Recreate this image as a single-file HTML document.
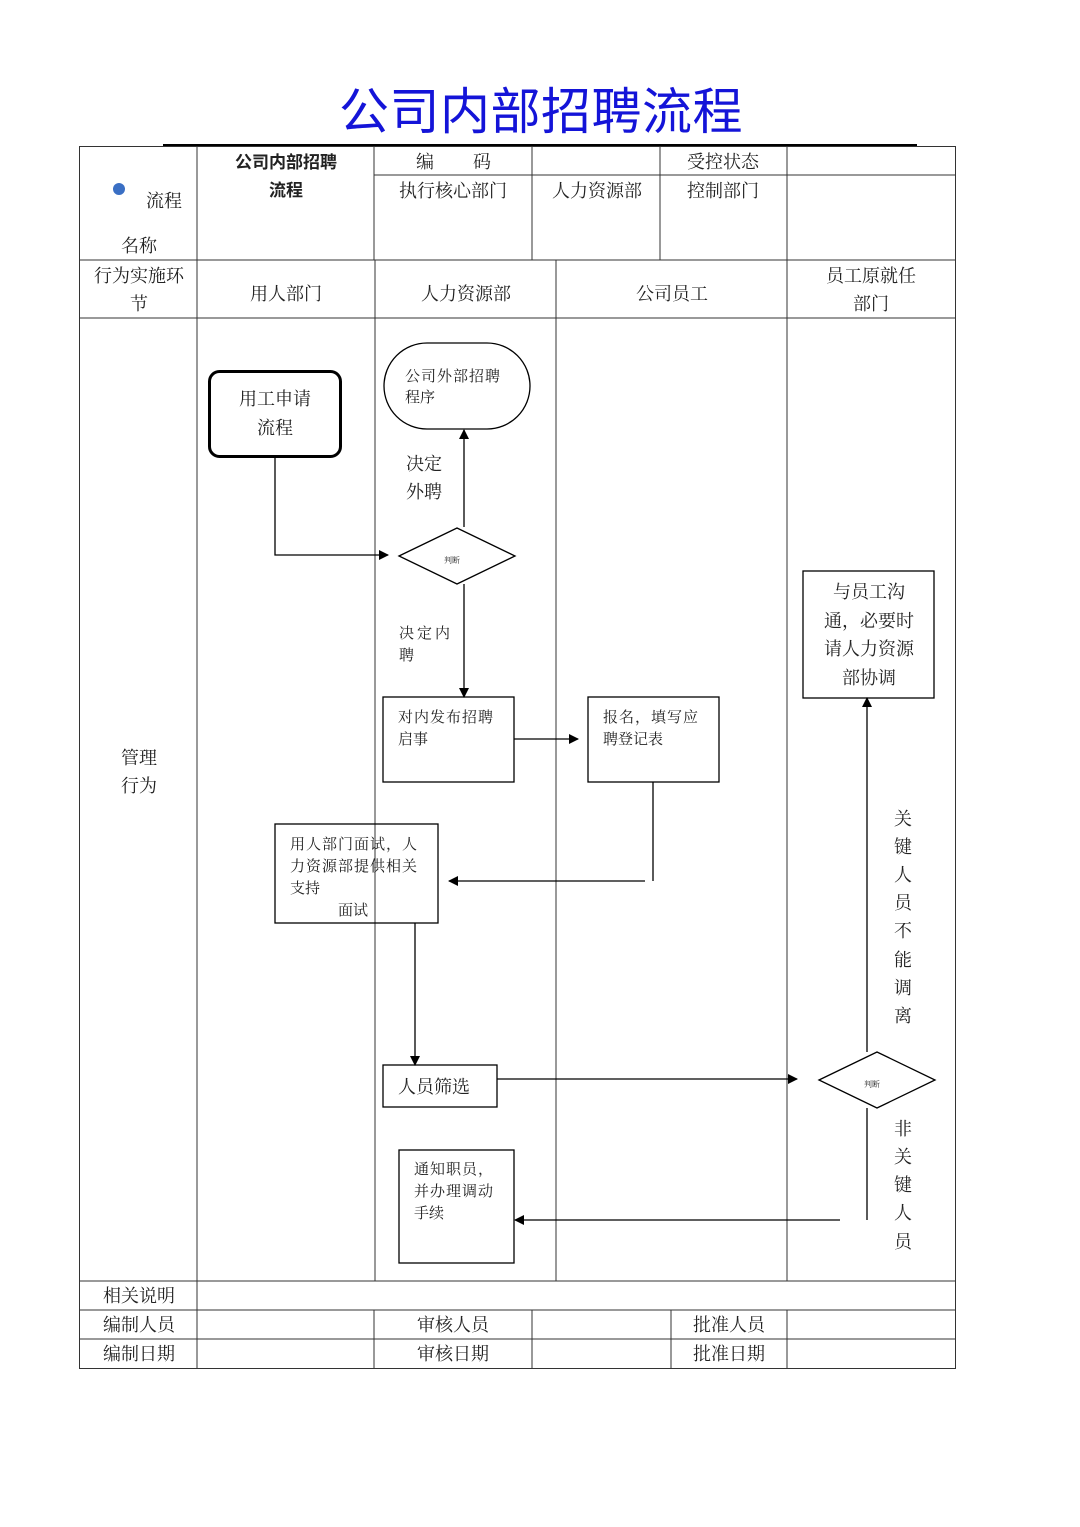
<!DOCTYPE html>
<html><head><meta charset="utf-8"><style>
html,body{margin:0;padding:0;background:#fff;width:1080px;height:1527px;overflow:hidden}
svg{display:block}
text{font-family:"Liberation Serif","Noto Serif CJK SC","Noto Sans CJK SC",serif;fill:#222}
.s{font-size:18px}.m{font-size:15px}
</style></head><body>
<svg width="1080" height="1527" viewBox="0 0 1080 1527" xmlns="http://www.w3.org/2000/svg">
<defs><marker id="a" markerWidth="10" markerHeight="10" refX="9" refY="5" orient="auto" markerUnits="userSpaceOnUse"><path d="M0,0 L10,5 L0,10 z" fill="#000"/></marker></defs>
<text x="541" y="129" text-anchor="middle" style="font-family:'Noto Sans CJK SC',sans-serif;font-size:50px;fill:#1414d8" letter-spacing="0.5">公司内部招聘流程</text>
<line x1="163" y1="145" x2="917" y2="145" stroke="#000" stroke-width="2"/>
<g stroke="#333" stroke-width="1" fill="none">
<rect x="79.5" y="146.5" width="876" height="1222"/>
<line x1="374" y1="175" x2="955" y2="175"/>
<line x1="79" y1="260" x2="955" y2="260"/>
<line x1="79" y1="318" x2="955" y2="318"/>
<line x1="79" y1="1281" x2="955" y2="1281"/>
<line x1="79" y1="1310" x2="955" y2="1310"/>
<line x1="79" y1="1339" x2="955" y2="1339"/>
<line x1="197" y1="146" x2="197" y2="1368"/>
<line x1="374" y1="146" x2="374" y2="260"/>
<line x1="532" y1="146" x2="532" y2="260"/>
<line x1="660" y1="146" x2="660" y2="260"/>
<line x1="787" y1="146" x2="787" y2="1281"/>
<line x1="375" y1="260" x2="375" y2="1281"/>
<line x1="556" y1="260" x2="556" y2="1281"/>
<line x1="374" y1="1310" x2="374" y2="1368"/>
<line x1="532" y1="1310" x2="532" y2="1368"/>
<line x1="671" y1="1310" x2="671" y2="1368"/>
<line x1="787" y1="1310" x2="787" y2="1368"/>
</g>
<circle cx="119" cy="189" r="6" fill="#3a6fc4"/>
<text class="s" x="146" y="207">流程</text>
<text class="s" x="121" y="252">名称</text>
<text class="s" x="286" y="168" text-anchor="middle" style="font-weight:bold;font-family:'Noto Sans CJK SC',sans-serif;font-size:17px">公司内部招聘</text>
<text class="s" x="286" y="196" text-anchor="middle" style="font-weight:bold;font-family:'Noto Sans CJK SC',sans-serif;font-size:17px">流程</text>
<text class="s" x="416" y="168">编</text><text class="s" x="473" y="168">码</text>
<text class="s" x="723" y="168" text-anchor="middle">受控状态</text>
<text class="s" x="453" y="197" text-anchor="middle">执行核心部门</text>
<text class="s" x="597" y="197" text-anchor="middle">人力资源部</text>
<text class="s" x="723" y="197" text-anchor="middle">控制部门</text>
<text class="s" x="139" y="282" text-anchor="middle">行为实施环</text>
<text class="s" x="139" y="310" text-anchor="middle">节</text>
<text class="s" x="286" y="300" text-anchor="middle">用人部门</text>
<text class="s" x="466" y="300" text-anchor="middle">人力资源部</text>
<text class="s" x="672" y="300" text-anchor="middle">公司员工</text>
<text class="s" x="871" y="282" text-anchor="middle">员工原就任</text>
<text class="s" x="871" y="310" text-anchor="middle">部门</text>
<text class="s" x="139" y="764" text-anchor="middle">管理</text>
<text class="s" x="139" y="792" text-anchor="middle">行为</text>
<text class="s" x="139" y="1302" text-anchor="middle">相关说明</text>
<text class="s" x="139" y="1331" text-anchor="middle">编制人员</text>
<text class="s" x="139" y="1360" text-anchor="middle">编制日期</text>
<text class="s" x="453" y="1331" text-anchor="middle">审核人员</text>
<text class="s" x="453" y="1360" text-anchor="middle">审核日期</text>
<text class="s" x="729" y="1331" text-anchor="middle">批准人员</text>
<text class="s" x="729" y="1360" text-anchor="middle">批准日期</text>
<g stroke="#000" fill="none" stroke-width="1.3">
<rect x="209.5" y="371.5" width="131" height="85" rx="10" stroke-width="3"/>
<rect x="384" y="343" width="146" height="86" rx="43"/>
<polygon points="399,556 457,528 515,556 457,584"/>
<polygon points="819,1080 877,1052 935,1080 877,1108"/>
<rect x="383" y="697" width="131" height="85"/>
<rect x="588" y="697" width="131" height="85"/>
<rect x="275" y="824" width="163" height="99"/>
<rect x="383" y="1065" width="114" height="42"/>
<rect x="803" y="571" width="131" height="127"/>
<rect x="399" y="1150" width="115" height="113"/>
<line x1="464" y1="527" x2="464" y2="430" marker-end="url(#a)"/>
<polyline points="275,457 275,555 388,555" marker-end="url(#a)"/>
<line x1="464" y1="584" x2="464" y2="697" marker-end="url(#a)"/>
<line x1="514" y1="739" x2="578" y2="739" marker-end="url(#a)"/>
<line x1="653" y1="782" x2="653" y2="881"/>
<line x1="645" y1="881" x2="449" y2="881" marker-end="url(#a)"/>
<line x1="415" y1="923" x2="415" y2="1065" marker-end="url(#a)"/>
<line x1="497" y1="1079" x2="797" y2="1079" marker-end="url(#a)"/>
<line x1="867" y1="1052" x2="867" y2="698" marker-end="url(#a)"/>
<line x1="867" y1="1108" x2="867" y2="1220"/>
<line x1="840" y1="1220" x2="515" y2="1220" marker-end="url(#a)"/>
</g>
<text class="s" x="275" y="405" text-anchor="middle">用工申请</text>
<text class="s" x="275" y="434" text-anchor="middle">流程</text>
<text class="m" x="405" y="381" letter-spacing="1">公司外部招聘</text>
<text class="m" x="405" y="402">程序</text>
<text class="s" x="406" y="470">决定</text>
<text class="s" x="406" y="498">外聘</text>
<text x="452" y="563" text-anchor="middle" style="font-size:8px">判断</text>
<text x="872" y="1087" text-anchor="middle" style="font-size:8px">判断</text>
<text class="m" x="399" y="638" letter-spacing="3">决定内</text>
<text class="m" x="399" y="660">聘</text>
<text class="m" x="398" y="722" letter-spacing="1">对内发布招聘</text>
<text class="m" x="398" y="744">启事</text>
<text class="m" x="603" y="722" letter-spacing="1">报名，填写应</text>
<text class="m" x="603" y="744">聘登记表</text>
<text class="m" x="290" y="849" letter-spacing="1">用人部门面试，人</text>
<text class="m" x="290" y="871" letter-spacing="1">力资源部提供相关</text>
<text class="m" x="290" y="893">支持</text>
<text class="m" x="338" y="915">面试</text>
<text class="s" x="398" y="1093">人员筛选</text>
<text class="s" x="869" y="598" text-anchor="middle">与员工沟</text>
<text class="s" x="869" y="627" text-anchor="middle">通，必要时</text>
<text class="s" x="869" y="655" text-anchor="middle">请人力资源</text>
<text class="s" x="869" y="684" text-anchor="middle">部协调</text>
<text class="m" x="414" y="1174" letter-spacing="1">通知职员，</text>
<text class="m" x="414" y="1196" letter-spacing="1">并办理调动</text>
<text class="m" x="414" y="1218">手续</text>
<g class="s" text-anchor="middle">
<text class="s" x="903" y="825">关</text><text class="s" x="903" y="853">键</text><text class="s" x="903" y="881">人</text><text class="s" x="903" y="909">员</text><text class="s" x="903" y="937">不</text><text class="s" x="903" y="966">能</text><text class="s" x="903" y="994">调</text><text class="s" x="903" y="1022">离</text>
<text class="s" x="903" y="1135">非</text><text class="s" x="903" y="1163">关</text><text class="s" x="903" y="1191">键</text><text class="s" x="903" y="1219">人</text><text class="s" x="903" y="1248">员</text>
</g>
</svg>
</body></html>
